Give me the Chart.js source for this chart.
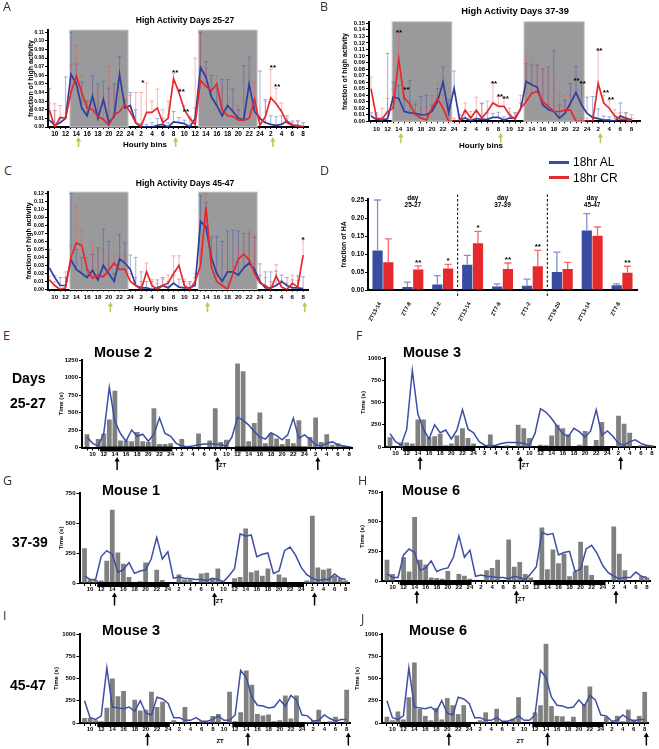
<!DOCTYPE html>
<html>
<head>
<meta charset="utf-8">
<title>High activity, 18hr AL vs 18hr CR</title>
<script src="https://cdn.jsdelivr.net/npm/chart.js@4.4.1/dist/chart.umd.min.js"></script>
<style>
  body { margin: 0; background: #fff; }
  #fig { position: relative; width: 659px; height: 749px; overflow: hidden;
         font-family: "Liberation Sans", Arial, sans-serif; }
  #fig canvas { position: absolute; }
  .txt { position: absolute; white-space: nowrap; line-height: 1; font-weight: bold; color: #000;
         transform: translate(-50%, -50%); }
  .lft { transform: translate(0, -50%); }
  .letter { position: absolute; font-family: "Open Sans", sans-serif; font-size: 12.5px;
            line-height: 12.5px; color: #333; }
  .key { position: absolute; width: 20px; height: 3px; }
</style>
</head>
<body>
<div id="fig">
  <canvas id="cA"></canvas>
  <canvas id="cB"></canvas>
  <canvas id="cC"></canvas>
  <canvas id="cD"></canvas>
  <canvas id="cE"></canvas>
  <canvas id="cF"></canvas>
  <canvas id="cG"></canvas>
  <canvas id="cH"></canvas>
  <canvas id="cI"></canvas>
  <canvas id="cJ"></canvas>

  <div class="letter" style="left:3px;top:1px">A</div>
  <div class="letter" style="left:320px;top:1px">B</div>
  <div class="letter" style="left:4px;top:165px">C</div>
  <div class="letter" style="left:320px;top:165px">D</div>
  <div class="letter" style="left:3px;top:330px">E</div>
  <div class="letter" style="left:356px;top:330px">F</div>
  <div class="letter" style="left:3px;top:475px">G</div>
  <div class="letter" style="left:358px;top:475px">H</div>
  <div class="letter" style="left:3px;top:610px">I</div>
  <div class="letter" style="left:361px;top:613px">J</div>

  <div class="txt" style="left:185px;top:20px;font-size:8.5px">High Activity Days 25-27</div>
  <div class="txt" style="left:515px;top:12px;font-size:9.3px">High Activity Days 37-39</div>
  <div class="txt" style="left:185px;top:183px;font-size:8.5px">High Activity Days 45-47</div>
  <div class="txt" style="left:145px;top:145px;font-size:8px">Hourly bins</div>
  <div class="txt" style="left:481px;top:146px;font-size:8px">Hourly bins</div>
  <div class="txt" style="left:156px;top:309px;font-size:8px">Hourly bins</div>

  <div class="key" style="left:549px;top:160.5px;background:#3a4ca0"></div>
  <div class="txt lft" style="left:573px;top:162px;font-size:12px;font-weight:normal">18hr AL</div>
  <div class="key" style="left:549px;top:176px;background:#e52a2d"></div>
  <div class="txt lft" style="left:573px;top:177.5px;font-size:12px;font-weight:normal">18hr CR</div>

  <div class="txt lft" style="left:12px;top:378px;font-size:14px">Days</div>
  <div class="txt lft" style="left:10px;top:403px;font-size:14px">25-27</div>
  <div class="txt lft" style="left:12px;top:542px;font-size:14px">37-39</div>
  <div class="txt lft" style="left:10px;top:685px;font-size:14px">45-47</div>

  <div class="txt lft" style="left:94px;top:352px;font-size:14.5px">Mouse 2</div>
  <div class="txt lft" style="left:403px;top:352px;font-size:14.5px">Mouse 3</div>
  <div class="txt lft" style="left:102px;top:490px;font-size:14.5px">Mouse 1</div>
  <div class="txt lft" style="left:402px;top:490px;font-size:14.5px">Mouse 6</div>
  <div class="txt lft" style="left:102px;top:630px;font-size:14.5px">Mouse 3</div>
  <div class="txt lft" style="left:409px;top:630px;font-size:14.5px">Mouse 6</div>
</div>

<script>
// hourly bins: ZT 9..24, 1..24, 1..8
const hours = [9, 10, 11, 12, 13, 14, 15, 16, 17, 18, 19, 20, 21, 22, 23, 24,
  1, 2, 3, 4, 5, 6, 7, 8, 9, 10, 11, 12, 13, 14, 15, 16, 17, 18, 19, 20, 21, 22, 23, 24,
  1, 2, 3, 4, 5, 6, 7, 8];
const bins = hours.map((h, i) => i);

// shaded dark phase (A-C) and black bars (E-J), in bin units
const lightsOff = [[3.8, 14.6], [27.6, 38.5]];
const darkBars = [[2.3, 15.3], [26.5, 39.5]];
const arrowsEarly = [5.4, 23.4, 41.4];
const arrowsLate = [11.3, 29.3, 47.3];
const ztMark = 24.3;

// A: days 25-27
const a25AL = [0.008, 0.002, 0.005, 0.01, 0.061, 0.05, 0.022, 0.013, 0.036, 0.01, 0.032, 0.005, 0.012, 0.061, 0.022, 0.025,
  0.005, 0, 0, 0, 0.002, 0.003, 0, 0.006, 0.005, 0.004, 0, 0.01, 0.069, 0.058, 0.035, 0.025, 0.013, 0.025, 0.018, 0.01,
  0.008, 0.05, 0.018, 0.01, 0.005, 0.003, 0.002, 0.003, 0.007, 0.002, 0.001, 0];
const a25CR = [0.02, 0, 0.011, 0.01, 0.04, 0.059, 0.04, 0.022, 0.02, 0.012, 0.009, 0.002, 0.014, 0.018, 0.026, 0.017,
  0.005, 0.001, 0.017, 0.017, 0.022, 0.005, 0.01, 0.056, 0.04, 0.02, 0.01, 0.003, 0.054, 0.047, 0.042, 0.05, 0.02, 0.013,
  0.012, 0.008, 0.008, 0.01, 0.032, 0.002, 0.012, 0.034, 0.027, 0.018, 0.005, 0.002, 0.002, 0];
const a25ALerr = [0.037, 0.017, 0.005, 0.048, 0.049, 0.023, 0.03, 0.017, 0.023, 0.04, 0.021, 0.04, 0.038, 0.021, 0.008, 0.015,
  0.015, 0.004, 0.003, 0.005, 0.008, 0.007, 0.005, 0.012, 0.006, 0.004, 0.01, 0.012, 0.041, 0.018, 0.025, 0.02, 0.042, 0.03,
  0.026, 0.01, 0.063, 0.031, 0.012, 0.055, 0.027, 0.01, 0.01, 0.01, 0.006, 0.005, 0.006, 0.005];
const a25CRerr = [0.008, 0.027, 0.014, 0.002, 0.032, 0.036, 0.02, 0.008, 0.01, 0.028, 0.019, 0.068, 0.026, 0.027, 0.007, 0.02,
  0.035, 0.039, 0.034, 0.013, 0.022, 0.015, 0.02, 0.006, 0.004, 0.005, 0.002, 0.077, 0.056, 0.021, 0.013, 0.01, 0.025, 0.032,
  0.018, 0.017, 0.022, 0.037, 0.02, 0.011, 0.018, 0.033, 0.018, 0.01, 0.005, 0.003, 0.005, 0.002];
const a25Stars = [{ x: 17.3, y: 0.054, t: '*' }, { x: 23.3, y: 0.066, t: '**' }, { x: 24.5, y: 0.044, t: '**' },
  { x: 25.3, y: 0.02, t: '**' }, { x: 41.4, y: 0.072, t: '**' }, { x: 42.2, y: 0.049, t: '**' }];

// B: days 37-39
const b37AL = [0.008, 0.003, 0.002, 0.004, 0.037, 0.035, 0.015, 0.013, 0.012, 0.01, 0.01, 0.015, 0.03, 0.06, 0.013, 0.05,
  0.002, 0.005, 0.001, 0.004, 0.003, 0.003, 0.006, 0.006, 0.002, 0.005, 0.005, 0.018, 0.061, 0.056, 0.052, 0.025, 0.018,
  0.015, 0.005, 0.012, 0.028, 0.044, 0.025, 0.012, 0.006, 0.004, 0.002, 0.002, 0, 0.008, 0.005, 0.002];
const b37CR = [0.05, 0.005, 0.003, 0.015, 0.02, 0.095, 0.035, 0.027, 0.01, 0.005, 0.002, 0.02, 0.035, 0.02, 0, 0,
  0, 0.017, 0.005, 0.017, 0.005, 0.015, 0.028, 0.023, 0.023, 0.01, 0.003, 0.02, 0.03, 0.043, 0.046, 0.03, 0.023, 0.015,
  0.015, 0.017, 0.017, 0, 0, 0, 0, 0.058, 0.028, 0.02, 0.008, 0.003, 0.003, 0];
const b37ALerr = [0.005, 0.01, 0.004, 0.1, 0.023, 0.02, 0.02, 0.049, 0.014, 0.028, 0.03, 0.01, 0.02, 0.023, 0.02, 0.027,
  0.008, 0.01, 0.005, 0.01, 0.025, 0.01, 0.006, 0.008, 0.005, 0.006, 0.008, 0.01, 0.027, 0.03, 0.034, 0.055, 0.065, 0.093,
  0.02, 0.02, 0.03, 0.04, 0.035, 0.025, 0.032, 0.015, 0.006, 0.005, 0.005, 0.02, 0.008, 0.002];
const b37CRerr = [0.018, 0.005, 0.017, 0.02, 0.03, 0.045, 0.005, 0.003, 0.02, 0.015, 0.02, 0.02, 0.022, 0.02, 0.01, 0.005,
  0.005, 0.011, 0.01, 0.02, 0.022, 0.016, 0.032, 0.015, 0.012, 0.01, 0.01, 0.02, 0.07, 0.052, 0.04, 0.05, 0.052, 0.055,
  0.03, 0.023, 0.023, 0.005, 0.005, 0.005, 0.005, 0.05, 0.012, 0.012, 0.01, 0.01, 0.01, 0.01];
const b37Stars = [{ x: 5.05, y: 0.14, t: '**' }, { x: 6.4, y: 0.052, t: '**' }, { x: 22.2, y: 0.062, t: '**' },
  { x: 23.3, y: 0.042, t: '**' }, { x: 24.3, y: 0.038, t: '**' }, { x: 37.1, y: 0.066, t: '**' },
  { x: 38.2, y: 0.061, t: '**' }, { x: 41.2, y: 0.112, t: '**' }, { x: 42.4, y: 0.048, t: '**' },
  { x: 43.3, y: 0.037, t: '**' }];

// C: days 45-47
const c45AL = [0.027, 0.015, 0.005, 0.005, 0.037, 0.025, 0.02, 0.015, 0.024, 0.012, 0.03, 0.02, 0.01, 0.038, 0.033, 0.025,
  0.005, 0.002, 0.002, 0, 0.002, 0.005, 0.002, 0.008, 0.003, 0.002, 0.002, 0.005, 0.085, 0.078, 0.04, 0.02, 0.01, 0.022,
  0.022, 0.018, 0.027, 0.033, 0.025, 0.01, 0.002, 0.002, 0.005, 0.01, 0.005, 0.002, 0.002, 0.001];
const c45CR = [0.012, 0.005, 0, 0.002, 0.04, 0.058, 0.055, 0.025, 0.014, 0.018, 0.016, 0.024, 0.033, 0.025, 0.025, 0.01,
  0.005, 0, 0.022, 0.005, 0, 0.005, 0.008, 0.02, 0.03, 0.005, 0, 0.01, 0.03, 0.103, 0.028, 0.01, 0.005, 0, 0.02, 0.038,
  0.044, 0.037, 0.02, 0.008, 0.005, 0, 0.017, 0.003, 0, 0.008, 0.003, 0.043];
const c45ALerr = [0.023, 0.002, 0.01, 0.01, 0.083, 0.025, 0.02, 0.01, 0.02, 0.04, 0.045, 0.04, 0.01, 0.031, 0.025, 0.018,
  0.035, 0.02, 0.008, 0.01, 0.01, 0.01, 0.008, 0.01, 0.01, 0.008, 0.008, 0.01, 0.032, 0.03, 0.025, 0.046, 0.05, 0.051,
  0.052, 0.055, 0.043, 0.037, 0.04, 0.022, 0.02, 0.02, 0.018, 0.008, 0.01, 0.01, 0.015, 0.015];
const c45CRerr = [0.005, 0.005, 0.005, 0.02, 0.015, 0.046, 0.018, 0.015, 0.044, 0.03, 0.034, 0.021, 0.012, 0.017, 0.02, 0.01,
  0.01, 0.01, 0.011, 0.008, 0.008, 0.008, 0.01, 0.022, 0.012, 0.008, 0.008, 0.01, 0.02, 0.017, 0.019, 0.01, 0.01, 0.01,
  0.015, 0.016, 0.016, 0.036, 0.048, 0.01, 0.01, 0.01, 0.014, 0.008, 0.008, 0.01, 0.008, 0.019];
const c45Stars = [{ x: 47, y: 0.065, t: '*' }];

// D: fraction of HA at selected ZT windows
const dLabels = ['ZT13-14', 'ZT7-8', 'ZT1-2', 'ZT13-14', 'ZT7-8', 'ZT1-2', 'ZT19-20', 'ZT13-14', 'ZT7-8'];
const dDays = ['25-27', '37-39', '45-47'];
const dAL = [0.11, 0.008, 0.015, 0.07, 0.01, 0.012, 0.05, 0.165, 0.013];
const dALerr = [0.14, 0.014, 0.025, 0.026, 0.007, 0.018, 0.055, 0.047, 0.004];
const dCR = [0.077, 0.057, 0.06, 0.13, 0.058, 0.066, 0.058, 0.151, 0.048];
const dCRerr = [0.065, 0.01, 0.011, 0.033, 0.017, 0.044, 0.019, 0.024, 0.018];
const dStars = ['', '**', '*', '*', '**', '**', '', '', '**'];

// E-J: time (s) per hourly bin for single mice, blue line = AL group
const avg25 = [150, 60, 20, 200, 860, 370, 200, 90, 250, 160, 190, 90, 190, 420, 200, 160, 60, 20, 10, 20, 40, 50, 50, 50,
  40, 20, 150, 430, 390, 320, 230, 150, 120, 210, 170, 110, 180, 420, 130, 180, 120, 40, 20, 60, 80, 40, 20, 10];
const mouse2d25 = [190, 0, 120, 200, 400, 810, 100, 100, 90, 220, 90, 80, 560, 50, 50, 60, 0, 120, 0, 0, 200, 0, 100, 560,
  80, 110, 0, 1200, 1090, 90, 350, 500, 60, 200, 130, 50, 120, 60, 390, 0, 150, 430, 80, 190, 40, 60, 30, 20];
const mouse3d25 = [110, 0, 50, 50, 40, 310, 310, 110, 120, 150, 20, 40, 130, 210, 100, 40, 0, 0, 140, 0, 0, 20, 0, 250,
  210, 100, 0, 25, 20, 130, 250, 210, 140, 0, 25, 180, 0, 80, 280, 0, 0, 350, 260, 160, 0, 20, 20, 20];
const avg37 = [60, 30, 30, 220, 270, 240, 90, 110, 170, 80, 100, 110, 200, 380, 200, 260, 40, 50, 40, 35, 30, 30, 20, 40,
  30, 10, 60, 120, 410, 390, 400, 220, 240, 250, 80, 100, 270, 300, 230, 130, 70, 40, 20, 30, 30, 75, 40, 30];
const mouse1d37 = [290, 30, 25, 20, 185, 610, 255, 160, 50, 0, 15, 170, 0, 110, 25, 0, 0, 70, 30, 30, 0, 80, 85, 40,
  120, 0, 0, 40, 50, 455, 90, 105, 60, 120, 0, 70, 45, 0, 0, 0, 20, 560, 130, 110, 120, 60, 40, 20];
const mouse6d37 = [180, 60, 0, 200, 80, 540, 180, 140, 30, 25, 20, 85, 0, 60, 45, 20, 0, 0, 90, 110, 180, 0, 350, 120,
  160, 60, 30, 0, 450, 100, 265, 150, 230, 40, 80, 330, 130, 50, 0, 0, 0, 460, 230, 90, 0, 0, 40, 30];
const avg45 = [250, 60, 40, 80, 620, 180, 170, 160, 180, 130, 250, 110, 90, 290, 270, 220, 60, 60, 30, 30, 60, 20, 20, 40,
  80, 30, 30, 90, 590, 510, 290, 200, 190, 170, 180, 260, 190, 310, 260, 90, 80, 20, 30, 90, 50, 20, 40, 40];
const mouse3d45 = [55, 60, 30, 20, 170, 500, 300, 360, 0, 260, 140, 150, 350, 180, 240, 0, 30, 0, 180, 0, 0, 20, 10, 80,
  100, 0, 350, 20, 120, 590, 430, 100, 85, 95, 20, 30, 310, 50, 310, 0, 10, 30, 150, 0, 20, 70, 0, 375];
const mouse6d45 = [70, 30, 130, 40, 290, 680, 160, 80, 30, 170, 40, 280, 200, 100, 200, 0, 0, 30, 120, 0, 160, 0, 0, 50,
  290, 0, 0, 120, 200, 890, 190, 80, 75, 20, 70, 0, 210, 410, 0, 0, 70, 0, 80, 20, 150, 40, 80, 350];

const AL_BLUE = '#2f3f9d';
const CR_RED = '#e8272c';
const AL_ERR = 'rgba(60, 80, 170, 0.45)';
const CR_ERR = 'rgba(235, 80, 80, 0.42)';
const FONT = '"Liberation Sans", Arial, sans-serif';

Chart.defaults.font.family = FONT;
Chart.defaults.color = '#000';

// size the canvas so the plot area lands on the given page coordinates
function frame(id, box, area) {
  const [L, T, W, H] = box;
  const cv = document.getElementById(id);
  cv.width = W;
  cv.height = H;
  cv.style.left = L + 'px';
  cv.style.top = T + 'px';
  return {
    cv, L,
    padding: { left: 0, top: area.top - T, right: L + W - area.right, bottom: 0 },
    yW: area.left - L,
    xH: T + H - area.bottom
  };
}

function yAxis(f, o) {
  return {
    min: 0, max: o.max,
    afterFit: (s) => { s.width = f.yW; },
    border: { display: true, color: '#000', width: 2 },
    grid: { display: true, drawOnChartArea: false, drawTicks: true, tickLength: 3, tickWidth: 1, color: '#000' },
    ticks: { stepSize: o.step, includeBounds: false, autoSkip: false, padding: 1, color: '#000',
      font: { size: o.font, weight: 'bold' }, callback: o.fmt },
    title: { display: true, text: o.title, color: '#000', font: { size: o.titleSize, weight: 'bold' },
      padding: { top: o.titleX - f.L - o.titleSize * 0.6, bottom: 0 } }
  };
}

function binAxis(f, o) {
  return {
    type: 'linear', min: o.min, max: o.max, offset: false,
    afterFit: (s) => { s.height = f.xH; },
    border: { display: true, color: '#000', width: 2 },
    grid: { display: true, offset: false, drawOnChartArea: false, drawTicks: true, tickLength: o.tick,
      tickWidth: 1, color: '#000' },
    ticks: { stepSize: 1, includeBounds: false, autoSkip: false, maxRotation: 0, minRotation: 0,
      padding: o.pad, color: '#000', font: { size: o.font, weight: 'bold' },
      callback: (v) => (hours[v] % 2 === 0 ? String(hours[v]) : '') }
  };
}

function shadePlugin(spans) {
  return {
    id: 'shade',
    beforeDatasetsDraw(chart) {
      const { ctx, chartArea: a, scales: { x } } = chart;
      ctx.save();
      spans.forEach(([s, e]) => {
        const x0 = x.getPixelForValue(s), x1 = x.getPixelForValue(e);
        ctx.fillStyle = '#9a9a9c';
        ctx.fillRect(x0, a.top, x1 - x0, a.bottom - a.top);
        ctx.strokeStyle = '#d2d2d2';
        ctx.lineWidth = 1;
        ctx.strokeRect(x0, a.top, x1 - x0, a.bottom - a.top);
      });
      ctx.restore();
    }
  };
}

function errorPlugin(sets) {
  return {
    id: 'errorBars',
    beforeDatasetsDraw(chart) {
      const { ctx, scales: { y } } = chart;
      ctx.save();
      ctx.lineWidth = 1;
      sets.forEach((s) => {
        const meta = chart.getDatasetMeta(s.ds);
        const vals = chart.data.datasets[s.ds].data;
        ctx.strokeStyle = s.color;
        meta.data.forEach((pt, i) => {
          const yt = y.getPixelForValue(vals[i] + s.err[i]);
          ctx.beginPath();
          ctx.moveTo(pt.x, pt.y);
          ctx.lineTo(pt.x, yt);
          ctx.moveTo(pt.x - 2, yt);
          ctx.lineTo(pt.x + 2, yt);
          ctx.stroke();
        });
      });
      ctx.restore();
    }
  };
}

function starPlugin(stars) {
  return {
    id: 'stars',
    afterDatasetsDraw(chart) {
      const { ctx, scales: { x, y } } = chart;
      ctx.save();
      ctx.fillStyle = '#000';
      ctx.font = 'bold 8px ' + FONT;
      ctx.textAlign = 'center';
      ctx.textBaseline = 'alphabetic';
      stars.forEach((s) => {
        ctx.fillText(s.t, x.getPixelForValue(s.x), y.getPixelForValue(s.y) + 4.7);
      });
      ctx.restore();
    }
  };
}

function arrowPlugin(at, color, tip, tail) {
  return {
    id: 'arrows',
    afterDraw(chart) {
      const { ctx, chartArea: a, scales: { x } } = chart;
      ctx.save();
      ctx.strokeStyle = color;
      ctx.fillStyle = color;
      ctx.lineWidth = 1.5;
      at.forEach((v) => {
        const px = x.getPixelForValue(v);
        const y0 = a.bottom + tip, y1 = a.bottom + tail;
        ctx.beginPath();
        ctx.moveTo(px, y1);
        ctx.lineTo(px, y0 + 3);
        ctx.stroke();
        ctx.beginPath();
        ctx.moveTo(px, y0);
        ctx.lineTo(px - 2.6, y0 + 4.5);
        ctx.lineTo(px + 2.6, y0 + 4.5);
        ctx.closePath();
        ctx.fill();
      });
      ctx.restore();
    }
  };
}

function darkBarPlugin(spans) {
  return {
    id: 'darkBar',
    afterDraw(chart) {
      const { ctx, chartArea: a, scales: { x } } = chart;
      ctx.save();
      ctx.fillStyle = '#000';
      spans.forEach(([s, e]) => {
        const x0 = x.getPixelForValue(s), x1 = x.getPixelForValue(e);
        ctx.fillRect(x0, a.bottom - 1, x1 - x0, 5);
      });
      ctx.font = 'bold 6px ' + FONT;
      ctx.textAlign = 'center';
      ctx.textBaseline = 'middle';
      ctx.fillText('ZT', x.getPixelForValue(ztMark), a.bottom + 18);
      ctx.restore();
    }
  };
}

function activityPanel(id, box, area, o) {
  const f = frame(id, box, area);
  new Chart(f.cv, {
    type: 'line',
    data: {
      labels: bins,
      datasets: [
        { label: '18hr CR', data: o.cr, borderColor: CR_RED, borderWidth: 1.7, pointRadius: 0, tension: 0 },
        { label: '18hr AL', data: o.al, borderColor: AL_BLUE, borderWidth: 1.7, pointRadius: 0, tension: 0 }
      ]
    },
    options: {
      responsive: false, animation: false, devicePixelRatio: 1,
      layout: { padding: f.padding },
      plugins: { legend: { display: false }, tooltip: { enabled: false } },
      scales: {
        x: binAxis(f, { min: o.xmin, max: o.xmax, tick: 2, pad: 1.8, font: o.xfont }),
        y: yAxis(f, { max: o.ymax, step: 0.01, font: o.yfont, fmt: (v) => v.toFixed(2),
          title: 'fraction of high activity', titleSize: 7, titleX: o.titleX })
      }
    },
    plugins: [
      shadePlugin(lightsOff),
      errorPlugin([{ ds: 1, err: o.alErr, color: AL_ERR }, { ds: 0, err: o.crErr, color: CR_ERR }]),
      starPlugin(o.stars),
      arrowPlugin(o.arrows, '#bcc64f', o.tip, o.tail)
    ]
  });
}

function mousePanel(id, box, area, o) {
  const f = frame(id, box, area);
  new Chart(f.cv, {
    type: 'bar',
    data: {
      labels: bins,
      datasets: [
        { type: 'line', label: 'AL', data: o.avg, borderColor: '#3d4fa5', borderWidth: 1.5, pointRadius: 0,
          tension: 0, order: 0 },
        { type: 'bar', label: 'mouse', data: o.bars, backgroundColor: '#808080', categoryPercentage: 1,
          barPercentage: 0.86, order: 1 }
      ]
    },
    options: {
      responsive: false, animation: false, devicePixelRatio: 1,
      layout: { padding: f.padding },
      plugins: { legend: { display: false }, tooltip: { enabled: false } },
      scales: {
        x: binAxis(f, { min: -0.9, max: 47.6, tick: 3, pad: 0, font: 6 }),
        y: yAxis(f, { max: o.ymax, step: 250, font: 6, fmt: (v) => String(v),
          title: 'Time (s)', titleSize: 6, titleX: o.titleX })
      }
    },
    plugins: [darkBarPlugin(darkBars), arrowPlugin(o.arrows, '#000', 9.5, 22.5)]
  });
}

activityPanel('cA', [0, 4, 320, 150], { left: 48, top: 30, right: 308, bottom: 127 }, {
  al: a25AL, cr: a25CR, alErr: a25ALerr, crErr: a25CRerr, stars: a25Stars, arrows: arrowsEarly,
  xmin: -0.25, xmax: 47.9, ymax: 0.1125, xfont: 6.5, yfont: 5, titleX: 31, tip: 10, tail: 20
});
activityPanel('cB', [322, 4, 337, 150], { left: 369, top: 21.7, right: 640, bottom: 121.3 }, {
  al: b37AL, cr: b37CR, alErr: b37ALerr, crErr: b37CRerr, stars: b37Stars, arrows: arrowsEarly,
  xmin: -0.36, xmax: 48.55, ymax: 0.1525, xfont: 6.2, yfont: 5.8, titleX: 345.5, tip: 11.7, tail: 22
});
activityPanel('cC', [0, 186, 320, 140], { left: 48, top: 192, right: 308, bottom: 289.5 }, {
  al: c45AL, cr: c45CR, alErr: c45ALerr, crErr: c45CRerr, stars: c45Stars, arrows: arrowsLate,
  xmin: -0.25, xmax: 47.9, ymax: 0.1216, xfont: 6.2, yfont: 5.3, titleX: 29.5, tip: 12.5, tail: 22.5
});

// D: grouped bars
(function () {
  const f = frame('cD', [322, 150, 337, 190], { left: 368, top: 198.5, right: 637, bottom: 290 });
  const errs = {
    id: 'dErrors',
    afterDatasetsDraw(chart) {
      const { ctx, scales: { x, y }, chartArea: a } = chart;
      ctx.save();
      [[0, dALerr, '#8391cf'], [1, dCRerr, '#ef6c6c']].forEach(([ds, err, col]) => {
        const meta = chart.getDatasetMeta(ds);
        ctx.strokeStyle = col;
        ctx.lineWidth = 1.3;
        meta.data.forEach((bar, i) => {
          const yt = y.getPixelForValue(chart.data.datasets[ds].data[i] + err[i]);
          ctx.beginPath();
          ctx.moveTo(bar.x, bar.y);
          ctx.lineTo(bar.x, yt);
          ctx.moveTo(bar.x - 3.5, yt);
          ctx.lineTo(bar.x + 3.5, yt);
          ctx.stroke();
        });
      });
      // significance marks above CR
      ctx.fillStyle = '#000';
      ctx.font = 'bold 8px ' + FONT;
      ctx.textAlign = 'center';
      const crMeta = chart.getDatasetMeta(1);
      dStars.forEach((t, i) => {
        if (!t) return;
        const yt = y.getPixelForValue(dCR[i] + dCRerr[i]);
        ctx.fillText(t, crMeta.data[i].x, yt - 1);
      });
      // separators between day groups
      ctx.strokeStyle = '#000';
      ctx.lineWidth = 1;
      ctx.setLineDash([2.5, 2]);
      [2, 5].forEach((i) => {
        const px = (x.getPixelForValue(i) + x.getPixelForValue(i + 1)) / 2;
        ctx.beginPath();
        ctx.moveTo(px, a.top - 4);
        ctx.lineTo(px, a.bottom + 8);
        ctx.stroke();
      });
      ctx.setLineDash([]);
      ctx.font = 'bold 6.5px ' + FONT;
      ctx.textBaseline = 'middle';
      dDays.forEach((d, k) => {
        const px = x.getPixelForValue(k * 3 + 1);
        ctx.fillText('day', px, a.top - 0.5);
        ctx.fillText(d, px, a.top + 7);
      });
      ctx.restore();
    }
  };
  new Chart(f.cv, {
    type: 'bar',
    data: {
      labels: dLabels,
      datasets: [
        { label: '18hr AL', data: dAL, backgroundColor: '#3a4ca0', categoryPercentage: 0.72, barPercentage: 0.95 },
        { label: '18hr CR', data: dCR, backgroundColor: '#e52a2d', categoryPercentage: 0.72, barPercentage: 0.95 }
      ]
    },
    options: {
      responsive: false, animation: false, devicePixelRatio: 1,
      layout: { padding: f.padding },
      plugins: { legend: { display: false }, tooltip: { enabled: false } },
      scales: {
        x: {
          afterFit: (s) => { s.height = f.xH; },
          border: { display: true, color: '#000', width: 2 },
          grid: { display: false },
          ticks: { autoSkip: false, maxRotation: 62, minRotation: 62, padding: 3, labelOffset: -3,
            color: '#000', font: { size: 5.5, weight: 'bold' } }
        },
        y: yAxis(f, { max: 0.2542, step: 0.05, font: 6.5, fmt: (v) => v.toFixed(2),
          title: 'fraction of HA', titleSize: 7, titleX: 344.5 })
      }
    },
    plugins: [errs]
  });
})();

mousePanel('cE', [0, 355, 357, 122], { left: 82, top: 360, right: 352.4, bottom: 447.5 },
  { bars: mouse2d25, avg: avg25, ymax: 1250, titleX: 61, arrows: arrowsEarly });
mousePanel('cF', [350, 352, 309, 125], { left: 385, top: 358, right: 655.3, bottom: 447 },
  { bars: mouse3d25, avg: avg25, ymax: 1000, titleX: 363.5, arrows: arrowsEarly });
mousePanel('cG', [0, 487, 357, 125], { left: 79.5, top: 493, right: 349, bottom: 583 },
  { bars: mouse1d37, avg: avg37, ymax: 750, titleX: 61, arrows: arrowsEarly });
mousePanel('cH', [350, 486, 309, 126], { left: 382, top: 492, right: 650.3, bottom: 581 },
  { bars: mouse6d37, avg: avg37, ymax: 750, titleX: 362.5, arrows: arrowsEarly });
mousePanel('cI', [0, 628, 357, 121], { left: 79.5, top: 634, right: 350, bottom: 723 },
  { bars: mouse3d45, avg: avg45, ymax: 1000, titleX: 56, arrows: arrowsLate });
mousePanel('cJ', [350, 628, 309, 121], { left: 382, top: 634, right: 648, bottom: 723 },
  { bars: mouse6d45, avg: avg45, ymax: 1000, titleX: 357.5, arrows: arrowsLate });
</script>
</body>
</html>
